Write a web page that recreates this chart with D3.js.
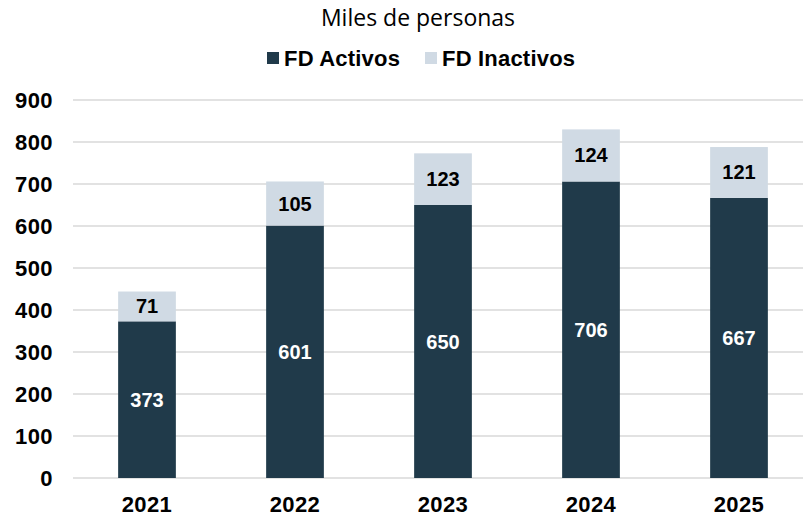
<!DOCTYPE html>
<html>
<head>
<meta charset="utf-8">
<script src="https://cdn.jsdelivr.net/npm/d3@7"></script>
<style>
  body { margin: 0; background: #fff; }
  svg { display: block; }
</style>
</head>
<body>
<div id="chart"></div>
<script>
const years = ["2021", "2022", "2023", "2024", "2025"]
const activos = [373, 601, 650, 706, 667]
const inactivos = [71, 105, 123, 124, 121]
const yTicks = [0, 100, 200, 300, 400, 500, 600, 700, 800, 900]

const width = 803
const height = 518
const colActivos = "#203a4a"
const colInactivos = "#d0dae4"
const boldFont = "'Liberation Sans', Arial, sans-serif"

const svg = d3
  .select("#chart")
  .append("svg")
  .attr("width", width)
  .attr("height", height)

const x = d3.scaleBand().domain(years).range([73, 813]).paddingInner(0.61).paddingOuter(0.305)
const y = d3.scaleLinear().domain([0, 900]).range([478, 100])

// gridlines
svg
  .selectAll(".grid")
  .data(yTicks)
  .join("line")
  .attr("class", "grid")
  .attr("x1", 73)
  .attr("x2", width)
  .attr("y1", (d) => y(d))
  .attr("y2", (d) => y(d))
  .attr("stroke", "#d9d9d9")
  .attr("stroke-width", 1.3)

// y labels
svg
  .selectAll(".ylab")
  .data(yTicks)
  .join("text")
  .attr("class", "ylab")
  .attr("x", 53)
  .attr("y", (d) => y(d))
  .attr("dy", "0.35em")
  .attr("text-anchor", "end")
  .style("font-family", boldFont)
  .style("font-weight", "bold")
  .style("font-size", "22px")
  .style("letter-spacing", "0.4px")
  .style("fill", "#000")
  .text((d) => d)

const rows = years.map((yr, i) => ({ yr: yr, a: activos[i], b: inactivos[i] }))

const groups = svg.selectAll(".bar").data(rows).join("g").attr("class", "bar")

groups
  .append("rect")
  .attr("x", (d) => x(d.yr))
  .attr("width", x.bandwidth())
  .attr("y", (d) => y(d.a))
  .attr("height", (d) => y(0) - y(d.a))
  .attr("fill", colActivos)

groups
  .append("rect")
  .attr("x", (d) => x(d.yr))
  .attr("width", x.bandwidth())
  .attr("y", (d) => y(d.a + d.b))
  .attr("height", (d) => y(d.a) - y(d.a + d.b))
  .attr("fill", colInactivos)

groups
  .append("text")
  .attr("x", (d) => x(d.yr) + x.bandwidth() / 2)
  .attr("y", (d) => (y(0) + y(d.a)) / 2)
  .attr("dy", "0.35em")
  .attr("text-anchor", "middle")
  .style("font-family", boldFont)
  .style("font-weight", "bold")
  .style("font-size", "20px")
  .style("fill", "#fff")
  .text((d) => d.a)

groups
  .append("text")
  .attr("x", (d) => x(d.yr) + x.bandwidth() / 2)
  .attr("y", (d) => (y(d.a) + y(d.a + d.b)) / 2)
  .attr("dy", "0.35em")
  .attr("text-anchor", "middle")
  .style("font-family", boldFont)
  .style("font-weight", "bold")
  .style("font-size", "20px")
  .style("fill", "#000")
  .text((d) => d.b)

// x labels
svg
  .selectAll(".xlab")
  .data(years)
  .join("text")
  .attr("class", "xlab")
  .attr("x", (d) => x(d) + x.bandwidth() / 2)
  .attr("y", 504)
  .attr("dy", "0.35em")
  .attr("text-anchor", "middle")
  .style("font-family", boldFont)
  .style("font-weight", "bold")
  .style("font-size", "22px")
  .style("letter-spacing", "0.4px")
  .style("fill", "#000")
  .text((d) => d)

// title
svg
  .append("text")
  .attr("x", 418)
  .attr("y", 18)
  .attr("dy", "0.35em")
  .attr("text-anchor", "middle")
  .style("font-family", "'Open Sans', Lato, sans-serif")
  .style("font-size", "23px")
  .style("fill", "#000")
  .text("Miles de personas")

// legend
const legend = [
  { name: "FD Activos", color: colActivos, x: 267 },
  { name: "FD Inactivos", color: colInactivos, x: 425 },
]
const lg = svg.selectAll(".legend").data(legend).join("g").attr("class", "legend")
lg.append("rect")
  .attr("x", (d) => d.x)
  .attr("y", 52)
  .attr("width", 12)
  .attr("height", 12)
  .attr("fill", (d) => d.color)
lg.append("text")
  .attr("x", (d) => d.x + 17)
  .attr("y", 58)
  .attr("dy", "0.35em")
  .style("font-family", boldFont)
  .style("font-weight", "bold")
  .style("font-size", "22px")
  .style("letter-spacing", "0.2px")
  .style("fill", "#000")
  .text((d) => d.name)
</script>
</body>
</html>
